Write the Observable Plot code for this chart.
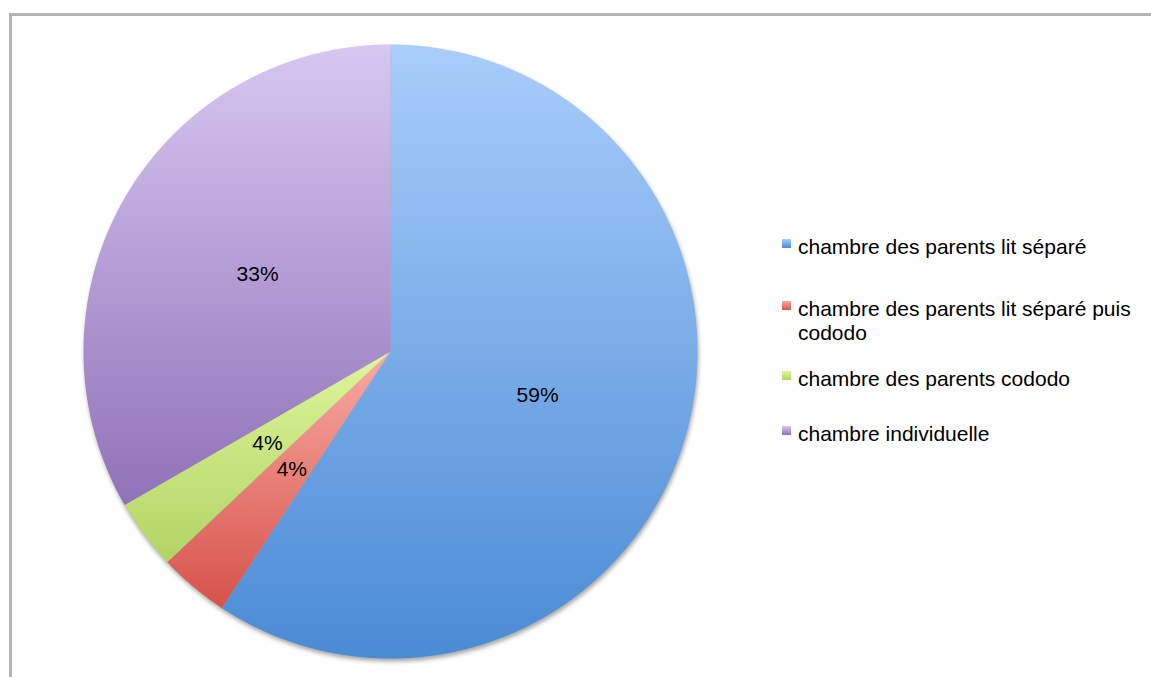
<!DOCTYPE html>
<html>
<head>
<meta charset="utf-8">
<script src="https://cdn.jsdelivr.net/npm/d3@7"></script>
<script src="https://cdn.jsdelivr.net/npm/@observablehq/plot@0.6"></script>
<style>
  html, body { margin: 0; padding: 0; background: #fff; overflow: hidden; }
  #wrap { position: relative; width: 1151px; height: 677px; font-family: "Liberation Sans", Arial, Helvetica, sans-serif; }
  #wrap svg { position: absolute; left: 0; top: 0; }
  #frame { position: absolute; left: 9px; top: 13px; width: 1200px; height: 700px; border-left: 3px solid #b3b3b3; border-top: 3px solid #b3b3b3; pointer-events: none; }
  #legend { position: absolute; left: 782px; top: 0; font-size: 21px; line-height: 24px; color: #000; }
  .item { position: absolute; left: 0; width: 365px; }
  .sw { position: absolute; left: 0; top: 4px; width: 9px; height: 9px; }
  .lab { position: absolute; left: 16px; width: 345px; }
</style>
</head>
<body>
<div id="wrap">
  <div id="frame"></div>
  <div id="legend"></div>
</div>
<script>
// ---- data ----
const categories = [
  "chambre des parents lit séparé",
  "chambre des parents lit séparé puis cododo",
  "chambre des parents cododo",
  "chambre individuelle"
];
const counts = [16, 1, 1, 9];

// ---- styles ----
const topColors = ["#a9cdfb", "#f9aba4", "#ddf59c", "#d7c7f1"];
const bottomColors = ["#4a8bd5", "#d6524a", "#b2d464", "#9072b8"];
const legendTops = [235, 297, 367, 422];

const total = d3.sum(counts);
let acc = 0;
const slices = counts.map((v, i) => {
  const a0 = acc / total * 2 * Math.PI;
  acc += v;
  const a1 = acc / total * 2 * Math.PI;
  return { i, name: categories[i], value: v, a0, a1 };
});

// polygon points for each slice (unit-radius pie, angles clockwise from top)
function slicePoints(s) {
  const pts = [{ x: 0, y: 0 }];
  const n = Math.max(4, Math.ceil((s.a1 - s.a0) / (Math.PI / 720)));
  for (let k = 0; k <= n; k++) {
    const a = s.a0 + (s.a1 - s.a0) * k / n;
    pts.push({ x: Math.sin(a), y: Math.cos(a) });
  }
  pts.push({ x: 0, y: 0 });
  return pts;
}

const labels = slices.map(s => {
  const m = (s.a0 + s.a1) / 2;
  return { x: 0.5 * Math.sin(m), y: 0.5 * Math.cos(m), text: Math.round(s.value / total * 100) + "%" };
});

const svg = Plot.plot({
  width: 1151,
  height: 677,
  marginLeft: 83,
  marginRight: 454,
  marginTop: 44,
  marginBottom: 19,
  x: { domain: [-1, 1], axis: null },
  y: { domain: [-1, 1], axis: null },
  style: { fontFamily: "'Liberation Sans', Arial, Helvetica, sans-serif", background: "transparent", overflow: "visible" },
  marks: [
    ...slices.map(s => Plot.line(slicePoints(s), {
      x: "x", y: "y", fill: `url(#grad${s.i})`, stroke: "none", curve: "linear"
    })),
    Plot.text(labels, { x: "x", y: "y", text: "text", fontSize: 21, fill: "#000" })
  ]
});

// gradients
const sel = d3.select(svg);
const defs = sel.insert("defs", ":first-child");
slices.forEach(s => {
  const g = defs.append("linearGradient").attr("id", `grad${s.i}`)
    .attr("x1", 0).attr("y1", 0).attr("x2", 0).attr("y2", 1);
  g.append("stop").attr("offset", "0%").attr("stop-color", topColors[s.i]);
  g.append("stop").attr("offset", "100%").attr("stop-color", bottomColors[s.i]);
});

// group the slices under one soft shadow
const lineGroups = Array.from(svg.querySelectorAll("g[aria-label='line']"));
if (lineGroups.length) {
  const pieG = document.createElementNS("http://www.w3.org/2000/svg", "g");
  pieG.setAttribute("style", "filter: drop-shadow(1px 3px 2px rgba(0,0,0,0.35))");
  lineGroups[0].parentNode.insertBefore(pieG, lineGroups[0]);
  lineGroups.forEach(g => pieG.appendChild(g));
}

document.getElementById("wrap").insertBefore(svg, document.getElementById("frame"));

// legend
const legend = d3.select("#legend");
categories.forEach((c, i) => {
  const item = legend.append("div").attr("class", "item").style("top", legendTops[i] + "px");
  item.append("div").attr("class", "sw")
    .style("background", `linear-gradient(${topColors[i]}, ${bottomColors[i]})`);
  item.append("div").attr("class", "lab").text(c);
});
</script>
</body>
</html>
